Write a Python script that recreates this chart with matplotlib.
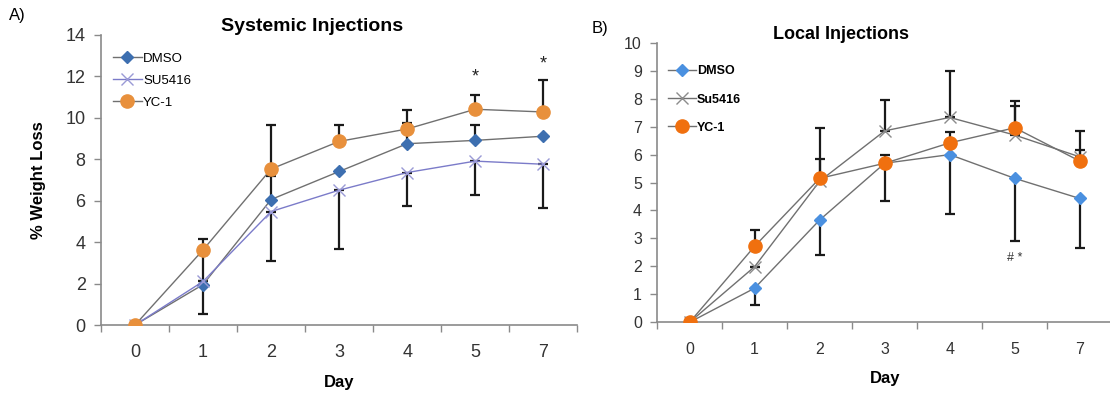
import numpy as np
import matplotlib.pyplot as plt

plt.rcParams['font.family'] = ['Liberation Sans', 'DejaVu Sans']

days = ["0", "1", "2", "3", "4", "5", "7"]

# Panel A - systemic injections (% weight loss)
sys_dmso = [0, 1.95, 6.05, 7.4, 8.74, 8.9, 9.1]
sys_dmso_lo = [0, 1.4, 0, 0, 0, 0, 0]
sys_dmso_hi = [0, 1.42, 1.13, 0, 1.0, 0.74, 0]
sys_su = [0, 2.1, 5.47, 6.5, 7.35, 7.9, 7.75]
sys_su_lo = [0, 0, 2.37, 2.86, 1.62, 1.62, 2.1]
sys_su_hi = [0, 0, 0, 0, 0, 0, 0]
sys_yc = [0, 3.62, 7.52, 8.85, 9.45, 10.4, 10.27]
sys_yc_lo = [0, 0, 0, 0, 0, 0, 0]
sys_yc_hi = [0, 0.55, 2.14, 0.77, 0.93, 0.7, 1.56]
sys_marks = [(5, 11.55, "*"), (6, 12.15, "*")]

# Panel B - local injections
loc_dmso = [0, 1.22, 3.66, 5.69, 6.0, 5.15, 4.43]
loc_dmso_lo = [0, 0.62, 1.26, 1.35, 2.13, 2.23, 1.78]
loc_dmso_hi = [0, 0, 0, 0, 0, 0, 0]
loc_su = [0, 1.99, 5.05, 6.85, 7.33, 6.7, 5.92]
loc_su_lo = [0, 0, 0, 0, 0, 0, 0]
loc_su_hi = [0, 0, 1.92, 1.12, 1.67, 1.04, 0.93]
loc_yc = [0, 2.72, 5.15, 5.69, 6.42, 6.96, 5.77]
loc_yc_lo = [0, 0, 0, 0, 0, 0, 0]
loc_yc_hi = [0, 0.58, 0.69, 0.31, 0.4, 0.97, 0.39]
loc_marks = [(5, 2.3, "# *")]

LINE = "#707070"
AXIS = "#8a8a8a"


def style_axes(ax, ymax, ystep, tick_fs):
    x = np.arange(len(days))
    ax.set_xlim(-0.5, len(days) - 0.5)
    ax.set_ylim(0, ymax)
    ax.set_yticks(np.arange(0, ymax + 0.01, ystep))
    ax.set_xticks(np.arange(-0.5, len(days)), labels=[""] * (len(days) + 1))
    ax.set_xticks(x, labels=days, minor=True)
    ax.tick_params(axis="x", which="minor", length=0, pad=14,
                   labelsize=tick_fs, labelcolor="#333333")
    ax.tick_params(axis="x", which="major", length=5, color=AXIS, width=1)
    ax.tick_params(axis="y", length=5, color=AXIS, width=1,
                   labelsize=tick_fs, labelcolor="#333333", pad=6)
    for s in ["top", "right"]:
        ax.spines[s].set_visible(False)
    for s in ["left", "bottom"]:
        ax.spines[s].set_color(AXIS)
        ax.spines[s].set_linewidth(1.2)


def draw_series(ax, vals, lo, hi, **kw):
    x = np.arange(len(days))
    ax.errorbar(x, vals, yerr=[lo, hi], fmt="none", ecolor="#1a1a1a",
                elinewidth=1.6, capsize=3.5, capthick=1.6, zorder=2)
    ax.plot(x, vals, zorder=3, **kw)


fig = plt.figure(figsize=(11.1, 3.93), dpi=100)

# ---- A) systemic
axA = fig.add_axes([0.091, 0.173, 0.429, 0.739])
style_axes(axA, 14, 2, 13)
draw_series(axA, sys_dmso, sys_dmso_lo, sys_dmso_hi, color=LINE, lw=1,
            marker="D", ms=6.5, mfc="#3d6fb0", mec="#3d6fb0", label="DMSO")
draw_series(axA, sys_su, sys_su_lo, sys_su_hi, color="#7b7bc9", lw=1,
            marker="x", ms=8, mew=1, mec="#9a9ad6", label="SU5416")
draw_series(axA, sys_yc, sys_yc_lo, sys_yc_hi, color=LINE, lw=1,
            marker="o", ms=9.5, mfc="#e8903c", mec="#e8903c", label="YC-1")
for xi, yi, t in sys_marks:
    axA.text(xi, yi, t, ha="center", va="bottom", fontsize=13, color="#222222")
axA.set_title("Systemic Injections", fontsize=14, fontweight="bold",
              x=0.443, pad=0)
axA.set_xlabel("Day", fontsize=12, fontweight="bold", labelpad=10)
axA.set_ylabel("% Weight Loss", fontsize=12, fontweight="bold", labelpad=14)
axA.legend(loc="upper left", bbox_to_anchor=(0.0, 0.98), frameon=False,
           fontsize=9.5, handlelength=2.2, handletextpad=0.1,
           labelspacing=0.75)
fig.text(0.008, 0.96, "A)", fontsize=12, va="center")

# ---- B) local
axB = fig.add_axes([0.592, 0.18, 0.41, 0.711])
style_axes(axB, 10, 1, 11.5)
draw_series(axB, loc_dmso, loc_dmso_lo, loc_dmso_hi, color=LINE, lw=1,
            marker="D", ms=6, mfc="#4a90e0", mec="#4a90e0", label="DMSO")
draw_series(axB, loc_su, loc_su_lo, loc_su_hi, color=LINE, lw=1,
            marker="x", ms=8, mew=1, mec="#8c8c8c", label="Su5416")
draw_series(axB, loc_yc, loc_yc_lo, loc_yc_hi, color=LINE, lw=1,
            marker="o", ms=9.5, mfc="#f0700f", mec="#f0700f", label="YC-1")
for xi, yi, t in loc_marks:
    axB.text(xi, yi, t, ha="center", va="center", fontsize=9, color="#333333")
axB.set_title("Local Injections", fontsize=13, fontweight="bold",
              x=0.404, pad=0)
axB.set_xlabel("Day", fontsize=12, fontweight="bold", labelpad=10)
axB.legend(loc="upper left", bbox_to_anchor=(0.0, 0.96), frameon=False,
           prop={"weight": "bold", "size": 9}, handlelength=2.2,
           handletextpad=0.1, labelspacing=1.3)
fig.text(0.533, 0.928, "B)", fontsize=12, va="center")

fig.savefig("out.png", dpi=100)
